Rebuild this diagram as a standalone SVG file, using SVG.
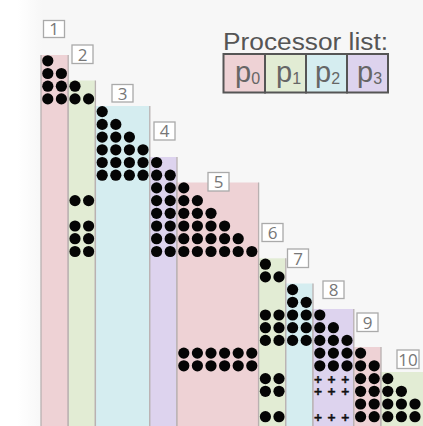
<svg xmlns="http://www.w3.org/2000/svg" xmlns:xlink="http://www.w3.org/1999/xlink" width="423" height="426" viewBox="0 0 423 426">
<defs>
<linearGradient id="bg" x1="0" y1="0" x2="1" y2="0">
<stop offset="0" stop-color="#ffffff"/>
<stop offset="0.04" stop-color="#ffffff"/>
<stop offset="0.1" stop-color="#f7f7f7"/>
<stop offset="1" stop-color="#f7f7f7"/>
</linearGradient>
<circle id="d" r="5.6" fill="#050505"/>
</defs>
<style>
.p0{fill:#eed2d5}.p1{fill:#e2ecd4}.p2{fill:#d5edf0}.p3{fill:#ddd3ee}
.edge{stroke:#b9b1b1;stroke-width:1.3;fill:none}
.lb{fill:#ffffff;stroke:#aaaaaa;stroke-width:1.3}
.lt{font-family:"Open Sans","DejaVu Sans",sans-serif;font-size:17px;fill:#777777;text-anchor:middle}
.pl{font-family:"Liberation Sans",Arial,sans-serif;font-size:29px;fill:#666666}
.pb{stroke:#555555;stroke-width:2}
.plus{font-family:"DejaVu Sans",sans-serif;font-weight:bold;font-size:10.8px;fill:#111111;stroke:#111111;stroke-width:0.5;text-anchor:middle}
</style>
<rect x="0" y="0" width="423" height="426" fill="url(#bg)"/>

<g id="sn1">
<rect class="p0" x="41" y="55" width="27.2" height="371"/>
<path class="edge" d="M41,55V426M68.2,55V426"/>
<rect class="lb" x="43.5" y="20.5" width="21" height="17"/><text class="lt" x="54" y="35">1</text>
<use href="#d" x="47.8" y="60.8"/>
<use href="#d" x="47.8" y="73.5"/><use href="#d" x="61.4" y="73.5"/>
<use href="#d" x="47.8" y="86.2"/><use href="#d" x="61.4" y="86.2"/>
<use href="#d" x="47.8" y="98.9"/><use href="#d" x="61.4" y="98.9"/>
</g>

<g id="sn2">
<rect class="p1" x="68.2" y="80.5" width="27.2" height="345.5"/>
<path class="edge" d="M68.2,80.5V426M95.4,80.5V426"/>
<rect class="lb" x="72" y="45" width="21" height="18.5"/><text class="lt" x="82.5" y="60.5">2</text>
<use href="#d" x="75" y="86.2"/>
<use href="#d" x="75" y="98.9"/><use href="#d" x="88.6" y="98.9"/>
<use href="#d" x="75" y="200.6"/><use href="#d" x="88.6" y="200.6"/>
<use href="#d" x="75" y="226"/><use href="#d" x="88.6" y="226"/>
<use href="#d" x="75" y="238.7"/><use href="#d" x="88.6" y="238.7"/>
<use href="#d" x="75" y="251.5"/><use href="#d" x="88.6" y="251.5"/>
</g>

<g id="sn3">
<rect class="p2" x="95.4" y="106" width="54.4" height="320"/>
<path class="edge" d="M95.4,106V426M149.8,106V426"/>
<rect class="lb" x="112" y="84.5" width="21" height="17.5"/><text class="lt" x="122.5" y="99.5">3</text>
<use href="#d" x="102.2" y="111.6"/>
<use href="#d" x="102.2" y="124.4"/><use href="#d" x="115.8" y="124.4"/>
<use href="#d" x="102.2" y="137.1"/><use href="#d" x="115.8" y="137.1"/><use href="#d" x="129.4" y="137.1"/>
<use href="#d" x="102.2" y="149.8"/><use href="#d" x="115.8" y="149.8"/><use href="#d" x="129.4" y="149.8"/><use href="#d" x="143" y="149.8"/>
<use href="#d" x="102.2" y="162.5"/><use href="#d" x="115.8" y="162.5"/><use href="#d" x="129.4" y="162.5"/><use href="#d" x="143" y="162.5"/>
<use href="#d" x="102.2" y="175.2"/><use href="#d" x="115.8" y="175.2"/><use href="#d" x="129.4" y="175.2"/><use href="#d" x="143" y="175.2"/>
</g>

<g id="sn4">
<rect class="p3" x="149.8" y="157" width="27.2" height="269"/>
<path class="edge" d="M149.8,157V426M177,157V426"/>
<rect class="lb" x="154" y="122" width="21" height="18"/><text class="lt" x="164.5" y="137.3">4</text>
<use href="#d" x="156.6" y="162.5"/>
<use href="#d" x="156.6" y="175.2"/><use href="#d" x="170.2" y="175.2"/>
<use href="#d" x="156.6" y="187.9"/><use href="#d" x="170.2" y="187.9"/>
<use href="#d" x="156.6" y="200.6"/><use href="#d" x="170.2" y="200.6"/>
<use href="#d" x="156.6" y="213.3"/><use href="#d" x="170.2" y="213.3"/>
<use href="#d" x="156.6" y="226"/><use href="#d" x="170.2" y="226"/>
<use href="#d" x="156.6" y="238.7"/><use href="#d" x="170.2" y="238.7"/>
<use href="#d" x="156.6" y="251.5"/><use href="#d" x="170.2" y="251.5"/>
</g>

<g id="sn5">
<rect class="p0" x="177" y="182.5" width="81.6" height="243.5"/>
<path class="edge" d="M177,182.5V426M258.6,182.5V426"/>
<rect class="lb" x="208" y="172.5" width="21" height="18.5"/><text class="lt" x="218.5" y="188">5</text>
<use href="#d" x="183.8" y="187.9"/>
<use href="#d" x="183.8" y="200.6"/><use href="#d" x="197.4" y="200.6"/>
<use href="#d" x="183.8" y="213.3"/><use href="#d" x="197.4" y="213.3"/><use href="#d" x="211" y="213.3"/>
<use href="#d" x="183.8" y="226"/><use href="#d" x="197.4" y="226"/><use href="#d" x="211" y="226"/><use href="#d" x="224.6" y="226"/>
<use href="#d" x="183.8" y="238.7"/><use href="#d" x="197.4" y="238.7"/><use href="#d" x="211" y="238.7"/><use href="#d" x="224.6" y="238.7"/><use href="#d" x="238.2" y="238.7"/>
<use href="#d" x="183.8" y="251.5"/><use href="#d" x="197.4" y="251.5"/><use href="#d" x="211" y="251.5"/><use href="#d" x="224.6" y="251.5"/><use href="#d" x="238.2" y="251.5"/><use href="#d" x="251.8" y="251.5"/>
<use href="#d" x="183.8" y="353.1"/><use href="#d" x="197.4" y="353.1"/><use href="#d" x="211" y="353.1"/><use href="#d" x="224.6" y="353.1"/><use href="#d" x="238.2" y="353.1"/><use href="#d" x="251.8" y="353.1"/>
<use href="#d" x="183.8" y="365.8"/><use href="#d" x="197.4" y="365.8"/><use href="#d" x="211" y="365.8"/><use href="#d" x="224.6" y="365.8"/><use href="#d" x="238.2" y="365.8"/><use href="#d" x="251.8" y="365.8"/>
</g>

<g id="sn6">
<rect class="p1" x="258.6" y="258.3" width="27.2" height="167.7"/>
<path class="edge" d="M258.6,258.3V426M285.8,258.3V426"/>
<rect class="lb" x="262" y="223.5" width="21" height="18"/><text class="lt" x="272.5" y="238.8">6</text>
<use href="#d" x="265.4" y="264.2"/>
<use href="#d" x="265.4" y="276.9"/><use href="#d" x="279" y="276.9"/>
<use href="#d" x="265.4" y="315"/><use href="#d" x="279" y="315"/>
<use href="#d" x="265.4" y="327.7"/><use href="#d" x="279" y="327.7"/>
<use href="#d" x="265.4" y="340.4"/><use href="#d" x="279" y="340.4"/>
<use href="#d" x="265.4" y="378.6"/><use href="#d" x="279" y="378.6"/>
<use href="#d" x="265.4" y="391.3"/><use href="#d" x="279" y="391.3"/>
<use href="#d" x="265.4" y="416.7"/><use href="#d" x="279" y="416.7"/>
</g>

<g id="sn7">
<rect class="p2" x="285.8" y="283.5" width="27.2" height="142.5"/>
<path class="edge" d="M285.8,283.5V426M313,283.5V426"/>
<rect class="lb" x="287.5" y="249" width="21" height="18.5"/><text class="lt" x="298" y="264.5">7</text>
<use href="#d" x="292.6" y="289.6"/>
<use href="#d" x="292.6" y="302.3"/><use href="#d" x="306.2" y="302.3"/>
<use href="#d" x="292.6" y="315"/><use href="#d" x="306.2" y="315"/>
<use href="#d" x="292.6" y="327.7"/><use href="#d" x="306.2" y="327.7"/>
<use href="#d" x="292.6" y="340.4"/><use href="#d" x="306.2" y="340.4"/>
</g>

<g id="sn8">
<rect class="p3" x="313" y="309" width="40.8" height="117"/>
<path class="edge" d="M313,309V426M353.8,309V426"/>
<rect class="lb" x="323" y="281" width="21" height="17.5"/><text class="lt" x="333.5" y="296">8</text>
<use href="#d" x="319.8" y="315"/>
<use href="#d" x="319.8" y="327.7"/><use href="#d" x="333.4" y="327.7"/>
<use href="#d" x="319.8" y="340.4"/><use href="#d" x="333.4" y="340.4"/><use href="#d" x="347" y="340.4"/>
<use href="#d" x="319.8" y="353.1"/><use href="#d" x="333.4" y="353.1"/><use href="#d" x="347" y="353.1"/>
<use href="#d" x="319.8" y="365.8"/><use href="#d" x="333.4" y="365.8"/><use href="#d" x="347" y="365.8"/>
<text class="plus" x="318" y="382.5">+</text><text class="plus" x="331.6" y="382.5">+</text><text class="plus" x="345.2" y="382.5">+</text>
<text class="plus" x="318" y="395.2">+</text><text class="plus" x="331.6" y="395.2">+</text><text class="plus" x="345.2" y="395.2">+</text>
<text class="plus" x="318" y="420.6">+</text><text class="plus" x="331.6" y="420.6">+</text><text class="plus" x="345.2" y="420.6">+</text>
</g>

<g id="sn9">
<rect class="p0" x="353.8" y="347" width="27.2" height="79"/>
<path class="edge" d="M353.8,347V426M381,347V426"/>
<rect class="lb" x="357" y="313" width="21" height="18.5"/><text class="lt" x="367.5" y="328.5">9</text>
<use href="#d" x="360.6" y="353.1"/>
<use href="#d" x="360.6" y="365.8"/><use href="#d" x="374.2" y="365.8"/>
<use href="#d" x="360.6" y="378.6"/><use href="#d" x="374.2" y="378.6"/>
<use href="#d" x="360.6" y="391.3"/><use href="#d" x="374.2" y="391.3"/>
<use href="#d" x="360.6" y="404"/><use href="#d" x="374.2" y="404"/>
<use href="#d" x="360.6" y="416.7"/><use href="#d" x="374.2" y="416.7"/>
</g>

<g id="sn10">
<rect class="p1" x="381" y="372" width="42" height="54"/>
<path class="edge" d="M381,372V426"/>
<rect class="lb" x="397" y="350" width="22" height="18.5"/><text class="lt" x="408" y="365.5">10</text>
<use href="#d" x="387.8" y="378.6"/>
<use href="#d" x="387.8" y="391.3"/><use href="#d" x="401.4" y="391.3"/>
<use href="#d" x="387.8" y="404"/><use href="#d" x="401.4" y="404"/><use href="#d" x="415" y="404"/>
<use href="#d" x="387.8" y="416.7"/><use href="#d" x="401.4" y="416.7"/><use href="#d" x="415" y="416.7"/>
</g>

<g id="processor-list">
<text x="223" y="50" font-family="'Liberation Sans',Arial,sans-serif" font-size="23" fill="#555555" textLength="165" lengthAdjust="spacingAndGlyphs">Processor list:</text>
<rect class="p0 pb" x="223.5" y="54" width="41.5" height="38.5"/>
<rect class="p1 pb" x="265" y="54" width="41" height="38.5"/>
<rect class="p2 pb" x="306" y="54" width="41" height="38.5"/>
<rect class="p3 pb" x="347" y="54" width="41" height="38.5"/>
<text class="pl" x="235" y="82">p<tspan font-size="16" dy="1.5">0</tspan></text>
<text class="pl" x="276" y="82">p<tspan font-size="16" dy="1.5">1</tspan></text>
<text class="pl" x="315" y="82">p<tspan font-size="16" dy="1.5">2</tspan></text>
<text class="pl" x="357" y="82">p<tspan font-size="16" dy="1.5">3</tspan></text>
</g>
</svg>
